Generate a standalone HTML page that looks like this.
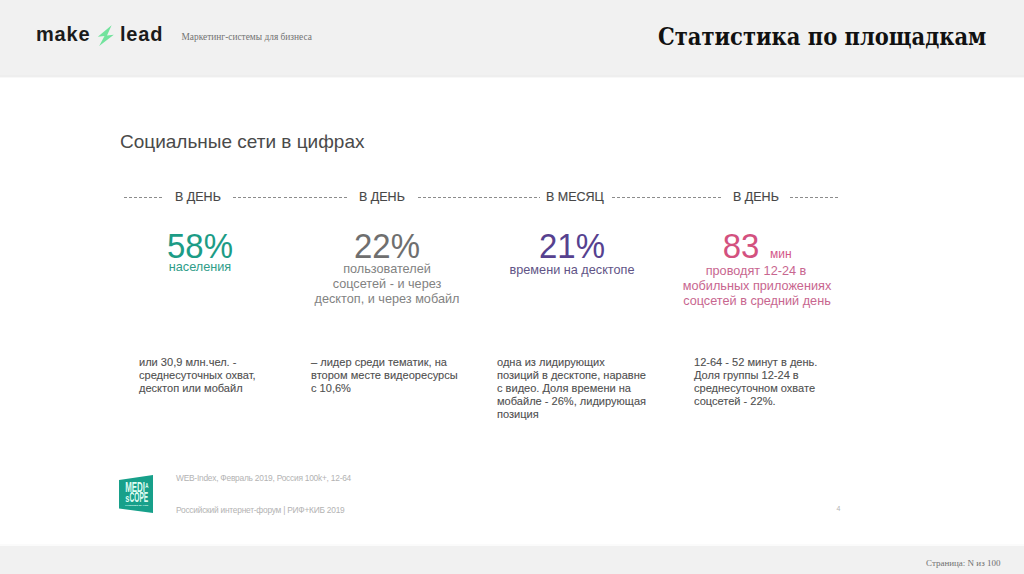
<!DOCTYPE html>
<html lang="ru">
<head>
<meta charset="utf-8">
<title>Статистика по площадкам</title>
<style>
html,body{margin:0;padding:0;}
body{width:1024px;height:574px;overflow:hidden;background:#fff;position:relative;font-family:"Liberation Sans",Arial,sans-serif;}
.abs{position:absolute;white-space:nowrap;}
#hdr{position:absolute;left:0;top:0;width:1024px;height:78px;background:linear-gradient(#f1f1f1 0 75px,#eeeeee 75px 77px,#f8f8f8 77px 78px);}
#ftr{position:absolute;left:0;top:544px;width:1024px;height:30px;background:linear-gradient(#fbfbfb 0 2px,#f1f1f1 2px);}
.logo{font-family:"Liberation Sans",sans-serif;font-weight:bold;font-size:20px;letter-spacing:0.8px;color:#1b1b1b;line-height:1;}
.sub{font-family:"Liberation Serif",serif;font-size:9.5px;color:#7a7a7a;line-height:1;}
.title{font-family:"DejaVu Serif","Liberation Serif",serif;font-weight:bold;font-stretch:condensed;font-size:23.4px;color:#111;line-height:1;}
.h2{font-size:19px;color:#4a4a4a;line-height:1;}
.lab{font-size:12.5px;color:#474747;line-height:1;-webkit-text-stroke:0.15px #474747;}
.dash{position:absolute;top:197px;height:1px;background:repeating-linear-gradient(90deg,#8c8c8c 0 3px,transparent 3px 5.05px);}
.big{font-size:34.5px;line-height:36px;text-align:center;transform:scaleX(0.955);transform-origin:50% 50%;}
.cap{font-size:12.7px;line-height:15.1px;text-align:center;}
.txt{font-size:11.05px;line-height:13.2px;color:#505050;-webkit-text-stroke:0.1px #505050;white-space:nowrap;}
.src{font-size:8.4px;color:#b3b3b3;line-height:1;letter-spacing:-0.24px;}
</style>
</head>
<body>
<div id="hdr"></div>
<div id="ftr"></div>

<!-- header logo -->
<div class="abs logo" style="left:36px;top:24px;">make</div>
<svg class="abs" style="left:94px;top:22px;" width="24" height="26" viewBox="0 0 24 26">
  <path d="M17.6 3.2 L3.8 14.8 L10.5 14.0 L5.2 24 L19.8 12.8 L13 13.6 Z" fill="#72e39d"/>
</svg>
<div class="abs logo" style="left:120px;top:24px;">lead</div>
<div class="abs sub" style="left:181.5px;top:32.8px;font-size:9.4px;color:#737373;">Маркетинг-системы для бизнеса</div>
<div class="abs title" style="left:658px;top:25.8px;">Статистика по площадкам</div>

<!-- heading -->
<div class="abs h2" style="left:120px;top:132.4px;">Социальные сети в цифрах</div>

<!-- dashed row -->
<div class="dash" style="left:124px;width:40px;"></div>
<div class="abs lab" style="left:175px;top:191.4px;">В ДЕНЬ</div>
<div class="dash" style="left:233px;width:114px;"></div>
<div class="abs lab" style="left:359px;top:191.4px;">В ДЕНЬ</div>
<div class="dash" style="left:418px;width:122px;"></div>
<div class="abs lab" style="left:546px;top:191.4px;">В МЕСЯЦ</div>
<div class="dash" style="left:612px;width:109px;"></div>
<div class="abs lab" style="left:733px;top:191.4px;">В ДЕНЬ</div>
<div class="dash" style="left:790px;width:51px;"></div>

<!-- big numbers -->
<div class="abs big" style="left:149.5px;width:100px;top:228px;color:#1c9c86;">58%</div>
<div class="abs cap" style="left:150px;width:100px;top:260.2px;color:#2f9d89;">населения</div>

<div class="abs big" style="left:336.5px;width:100px;top:228px;color:#6f6f6f;">22%</div>
<div class="abs cap" style="left:287px;width:200px;top:262.3px;color:#828282;">пользователей<br>соцсетей - и через<br>десктоп, и через мобайл</div>

<div class="abs big" style="left:521.5px;width:100px;top:228px;color:#56418f;">21%</div>
<div class="abs cap" style="left:472px;width:200px;top:263.2px;color:#5f5486;">времени на десктопе</div>

<div class="abs big" style="left:690.5px;width:100px;top:228px;color:#d3517f;">83</div>
<div class="abs" style="left:770px;top:248px;font-size:12px;line-height:12px;color:#d3568a;">мин</div>
<div class="abs cap" style="left:657px;width:200px;top:263.6px;color:#c8668f;"><span style="position:relative;left:-1px">проводят 12-24 в</span><br>мобильных приложениях<br>соцсетей в средний день</div>

<!-- lower texts -->
<div class="abs txt" style="left:139px;top:355.5px;">или 30,9 млн.чел. -<br>среднесуточных охват,<br>десктоп или мобайл</div>
<div class="abs txt" style="left:311px;top:355.5px;">– лидер среди тематик, на<br>втором месте видеоресурсы<br>с 10,6%</div>
<div class="abs txt" style="left:497px;top:355.5px;">одна из лидирующих<br>позиций в десктопе, наравне<br>с видео. Доля времени на<br>мобайле - 26%, лидирующая<br>позиция</div>
<div class="abs txt" style="left:694px;top:355.5px;">12-64 - 52 минут в день.<br>Доля группы 12-24 в<br>среднесуточном охвате<br>соцсетей - 22%.</div>

<!-- mediascope logo -->
<svg class="abs" style="left:118px;top:474px;" width="37" height="40" viewBox="0 0 37 40">
  <path d="M1 6 L35 1 L35 39 L1 34.5 Z" fill="#17a08a"/>
  <g font-family="Liberation Sans,sans-serif" fill="#dffcf2" font-weight="bold">
    <text x="7.2" y="18.4" font-size="14" textLength="19.8" lengthAdjust="spacingAndGlyphs">MEDI</text>
    <text x="27.3" y="13.6" font-size="7.2" textLength="3.2" lengthAdjust="spacingAndGlyphs">A</text>
    <text x="7.2" y="28.4" font-size="10" textLength="4.2" lengthAdjust="spacingAndGlyphs">s</text>
    <text x="11.6" y="28.4" font-size="15" textLength="18.6" lengthAdjust="spacingAndGlyphs">COPE</text>
    <text x="7.2" y="32.2" font-size="2.4" textLength="23" lengthAdjust="spacingAndGlyphs" font-weight="bold">POWERED BY TNS</text>
  </g>
</svg>
<div class="abs src" style="left:176px;top:474px;">WEB-Index, Февраль 2019, Россия 100k+, 12-64</div>
<div class="abs src" style="left:176px;top:505.6px;">Российский интернет-форум | РИФ+КИБ 2019</div>
<div class="abs src" style="left:836.5px;top:504.5px;font-size:7px;letter-spacing:0;">4</div>

<!-- footer -->
<div class="abs sub" style="left:926px;top:558.6px;font-size:9px;color:#707070;">Страница: N из 100</div>
</body>
</html>
